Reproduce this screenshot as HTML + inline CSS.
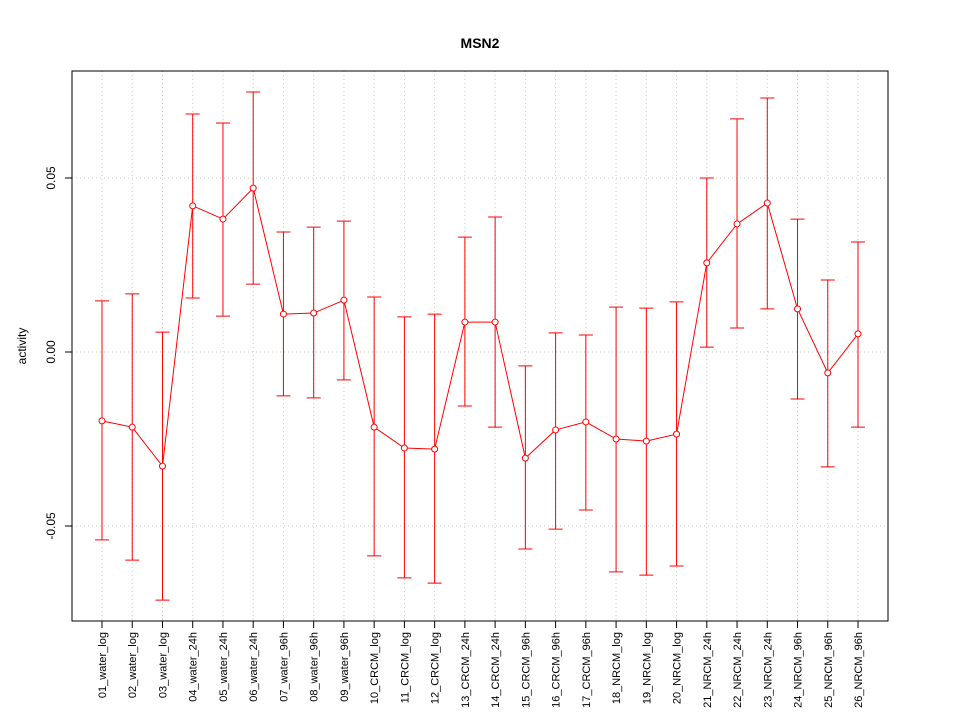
<!DOCTYPE html>
<html><head><meta charset="utf-8"><style>body{margin:0;background:#fff}svg{display:block;font-family:"Liberation Sans",sans-serif}</style></head>
<body>
<svg id="chart" width="960" height="720" xmlns="http://www.w3.org/2000/svg">
<rect width="960" height="720" fill="#fff"/>
<text x="480" y="48" text-anchor="middle" font-size="14" font-weight="bold">MSN2</text>
<g id="grid"></g><g id="axes"></g><g id="series"></g>
<rect x="72" y="71" width="816" height="550" fill="none" stroke="#000"/>
<text transform="translate(26,346) rotate(-90)" text-anchor="middle" font-size="12">activity</text>
</svg>
<script>
const categories=["01_water_log","02_water_log","03_water_log","04_water_24h","05_water_24h","06_water_24h","07_water_96h","08_water_96h","09_water_96h","10_CRCM_log","11_CRCM_log","12_CRCM_log","13_CRCM_24h","14_CRCM_24h","15_CRCM_96h","16_CRCM_96h","17_CRCM_96h","18_NRCM_log","19_NRCM_log","20_NRCM_log","21_NRCM_24h","22_NRCM_24h","23_NRCM_24h","24_NRCM_96h","25_NRCM_96h","26_NRCM_96h"];
const values=[-0.0198,-0.0216,-0.0328,0.042,0.0382,0.0471,0.0109,0.0112,0.0149,-0.0216,-0.0276,-0.0279,0.0086,0.0086,-0.0305,-0.0224,-0.0201,-0.025,-0.0256,-0.0236,0.0256,0.0368,0.0428,0.0124,-0.006,0.0052];
const upper=[0.0147,0.0167,0.0057,0.0684,0.0658,0.0747,0.0345,0.0359,0.0376,0.0158,0.0101,0.0109,0.033,0.0388,-0.004,0.0055,0.0049,0.0129,0.0126,0.0144,0.05,0.067,0.073,0.0382,0.0207,0.0316];
const lower=[-0.054,-0.0598,-0.0713,0.0155,0.0103,0.0195,-0.0126,-0.0132,-0.008,-0.0586,-0.0649,-0.0664,-0.0155,-0.0216,-0.0566,-0.0509,-0.0454,-0.0632,-0.0641,-0.0615,0.0014,0.0069,0.0124,-0.0135,-0.033,-0.0216];
const yTicks=[-0.05,0,0.05];
const yTickLabels=["-0.05","0.00","0.05"];
const NS="http://www.w3.org/2000/svg";
function xs(i){return 102+i*(858-102)/(categories.length-1);}
function ys(v){return 352-v*3480;}
function mk(tag,attrs,parent){const e=document.createElementNS(NS,tag);for(const k in attrs)e.setAttribute(k,attrs[k]);document.getElementById(parent).appendChild(e);return e;}
categories.forEach((c,i)=>{
 const g=mk('line',{x1:xs(i),x2:xs(i),y1:71,y2:621,stroke:'#c8c8c8','stroke-dasharray':'1,3'},'grid');
 
 
 const t=mk('line',{x1:xs(i),x2:xs(i),y1:621,y2:628,stroke:'#000'},'axes');
 
 
 const l=mk('text',{transform:`translate(${xs(i)+4},632) rotate(-90)`,'text-anchor':'end','font-size':'11'},'axes');
 l.textContent=c;
 
 
});
yTicks.forEach((v,i)=>{
 const g=mk('line',{x1:72,x2:888,y1:ys(v),y2:ys(v),stroke:'#c8c8c8','stroke-dasharray':'1,3'},'grid');
 
 
 const t=mk('line',{x1:65,x2:72,y1:ys(v),y2:ys(v),stroke:'#000'},'axes');
 
 
 const l=mk('text',{transform:`translate(55,${ys(v)}) rotate(-90)`,'text-anchor':'middle','font-size':'12'},'axes');
 l.textContent=yTickLabels[i];
 
 
});
const ya=mk('line',{x1:72,x2:72,y1:ys(yTicks[0]),y2:ys(yTicks[yTicks.length-1]),stroke:'#000'},'axes');


const xa=mk('line',{x1:xs(0),x2:xs(categories.length-1),y1:621,y2:621,stroke:'#000'},'axes');


values.forEach((v,i)=>{
 const x=xs(i);
 const e=mk('path',{d:`M${x},${ys(upper[i])}V${ys(lower[i])}M${x-7},${ys(upper[i])}H${x+7}M${x-7},${ys(lower[i])}H${x+7}`,stroke:'#ff0000',fill:'none','stroke-width':1},'series');
 
 
});
const line=mk('polyline',{points:values.map((v,i)=>xs(i)+','+ys(v)).join(' '),fill:'none',stroke:'#ff0000'},'series');


values.forEach((v,i)=>{
 const p=mk('circle',{cx:xs(i),cy:ys(v),r:3,fill:'#fff',stroke:'#ff0000'},'series');
 
 
});
</script>
</body></html>
